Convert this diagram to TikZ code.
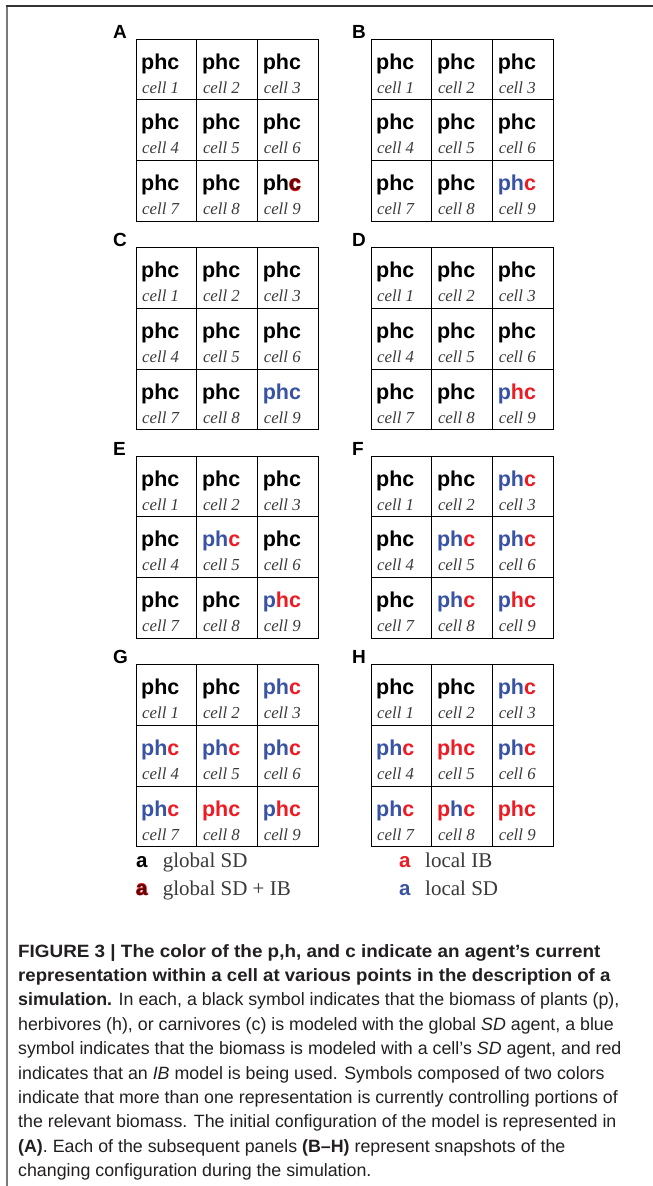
\documentclass[tikz,border=0pt]{standalone}
\usepackage{fontspec}
\usepackage{graphicx}
\setmainfont{Liberation Serif}
\newfontfamily\arial{Liberation Sans}
\definecolor{phblue}{HTML}{3953A4}
\definecolor{phred}{HTML}{ED1C24}
\definecolor{phdark}{HTML}{5A0808}
\definecolor{lblgray}{HTML}{3A3A3A}
\definecolor{capblack}{HTML}{231F20}
\definecolor{framegray}{HTML}{7A7A7A}
\definecolor{framedark}{HTML}{333333}

\newcommand\Bl[1]{\textcolor{phblue}{#1}}
\newcommand\Rd[1]{\textcolor{phred}{#1}}
\newcommand\halo[1]{\leavevmode
  \rlap{\raisebox{0.6pt}{\textcolor{phred}{#1}}}%
  \rlap{\raisebox{-0.6pt}{\textcolor{phred}{#1}}}%
  \rlap{\hspace*{0.6pt}\textcolor{phred}{#1}}%
  \rlap{\hspace*{-0.6pt}\textcolor{phred}{#1}}%
  \textcolor{phdark}{#1}}
\newcommand\phK{phc}
\newcommand\phB{\Bl{phc}}
\newcommand\phR{\Rd{phc}}
\newcommand\phBBR{\Bl{ph}\Rd{c}}
\newcommand\phBRR{\Bl{p}\Rd{hc}}
\newcommand\phRBR{\Rd{p}\Bl{h}\Rd{c}}
\newcommand\phKKH{ph\halo{c}}

\tikzset{
  cellbox/.style={draw=black, line width=1pt, minimum size=60.8pt, inner sep=0pt, outer sep=0pt},
  sym/.style={anchor=base west, inner sep=0pt, font=\arial\bfseries\fontsize{21.5}{21.5}\selectfont},
  lab/.style={anchor=base west, inner sep=0pt, text=lblgray, font=\itshape\fontsize{16.8}{16.8}\selectfont},
  plabel/.style={anchor=base west, inner sep=0pt, font=\arial\bfseries\fontsize{19}{19}\selectfont},
  legsym/.style={anchor=base west, inner sep=0pt, font=\arial\bfseries\fontsize{20.5}{20.5}\selectfont},
  legtxt/.style={anchor=base west, inner sep=0pt, text=lblgray, font=\fontsize{21}{21}\selectfont},
  capline/.style={anchor=base west, inner sep=0pt, text=capblack, font=\arial\fontsize{17.8}{17.8}\selectfont},
}

% #1 name, #2 x0, #3 y0, #4 label x, #5 codes
\newcommand\panel[5]{%
  \node[plabel] (#1-lab) at (#4,#3-1) {#1};
  \foreach \code [count=\i] in {#5} {
    \pgfmathtruncatemacro\prow{div(\i-1,3)}
    \pgfmathtruncatemacro\pcol{mod(\i-1,3)}
    \node[cellbox] (#1\i) at ({#2+(\pcol+0.5)*60.8},{#3+(\prow+0.5)*60.8}) {};
    \node[sym] (#1\i-s) at ([xshift=5pt,yshift=-30pt]#1\i.north west) {\csname ph\code\endcsname};
    \node[lab] (#1\i-l) at ([xshift=6pt,yshift=-54pt]#1\i.north west) {cell \i};
  }
}

\begin{document}
\begin{tikzpicture}[x=1pt,y=-1pt]
\useasboundingbox (0,0) rectangle (653,1186);
\fill[white] (0,0) rectangle (653,1186);

% frame
\draw[framegray, line width=1.6pt] (7,6) -- (7,1186);
\draw[framedark, line width=1.4pt] (6,6) -- (653,6);

% panels
\panel{A}{136}{39}{113}{K,K,K,K,K,K,K,K,KKH}
\panel{B}{371}{39}{352}{K,K,K,K,K,K,K,K,BBR}
\panel{C}{136}{247.5}{113}{K,K,K,K,K,K,K,K,B}
\panel{D}{371}{247.5}{352}{K,K,K,K,K,K,K,K,BRR}
\panel{E}{136}{456}{113}{K,K,K,K,BBR,K,K,K,BRR}
\panel{F}{371}{456}{352}{K,K,BBR,K,BBR,BBR,K,BBR,BRR}
\panel{G}{136}{664.5}{113}{K,K,BBR,BBR,BBR,BBR,BBR,R,BRR}
\panel{H}{371}{664.5}{352}{K,K,BBR,BBR,R,BBR,BBR,RBR,R}

% legend
\node[legsym] (lg1) at (136,867) {a};
\node[legtxt] (lg1t) at (162.7,867) {global SD};
\node[legsym] (lg2) at (136,895) {\halo{a}};
\node[legtxt] (lg2t) at (162.7,895) {global SD + IB};
\node[legsym] (lg3) at (399,867) {\Rd{a}};
\node[legtxt] (lg3t) at (425,867) {local IB};
\node[legsym] (lg4) at (399,895) {\Bl{a}};
\node[legtxt] (lg4t) at (425,895) {local SD};

% caption
\node[capline] (cap1) at (18,957) {\scalebox{1.06}[1]{\bfseries FIGURE 3 | The color of the p,h, and c indicate an agent’s current}};
\node[capline] (cap2) at (18,981.4) {\scalebox{1.045}[1]{\bfseries representation within a cell at various points in the description of a}};
\node[capline] (cap3) at (18,1005.8) {\textbf{simulation.} In each, a black symbol indicates that the biomass of plants (p),};
\node[capline] (cap4) at (18,1030.2) {herbivores (h), or carnivores (c) is modeled with the global \textit{SD} agent, a blue};
\node[capline] (cap5) at (18,1054.6) {symbol indicates that the biomass is modeled with a cell’s \textit{SD} agent, and red};
\node[capline] (cap6) at (18,1079) {indicates that an \textit{IB} model is being used. Symbols composed of two colors};
\node[capline] (cap7) at (18,1103.4) {indicate that more than one representation is currently controlling portions of};
\node[capline] (cap8) at (18,1127.8) {the relevant biomass. The initial configuration of the model is represented in};
\node[capline] (cap9) at (18,1152.2) {\textbf{(A)}. Each of the subsequent panels \textbf{(B–H)} represent snapshots of the};
\node[capline] (cap10) at (18,1176.6) {changing configuration during the simulation.};
\end{tikzpicture}
\end{document}
